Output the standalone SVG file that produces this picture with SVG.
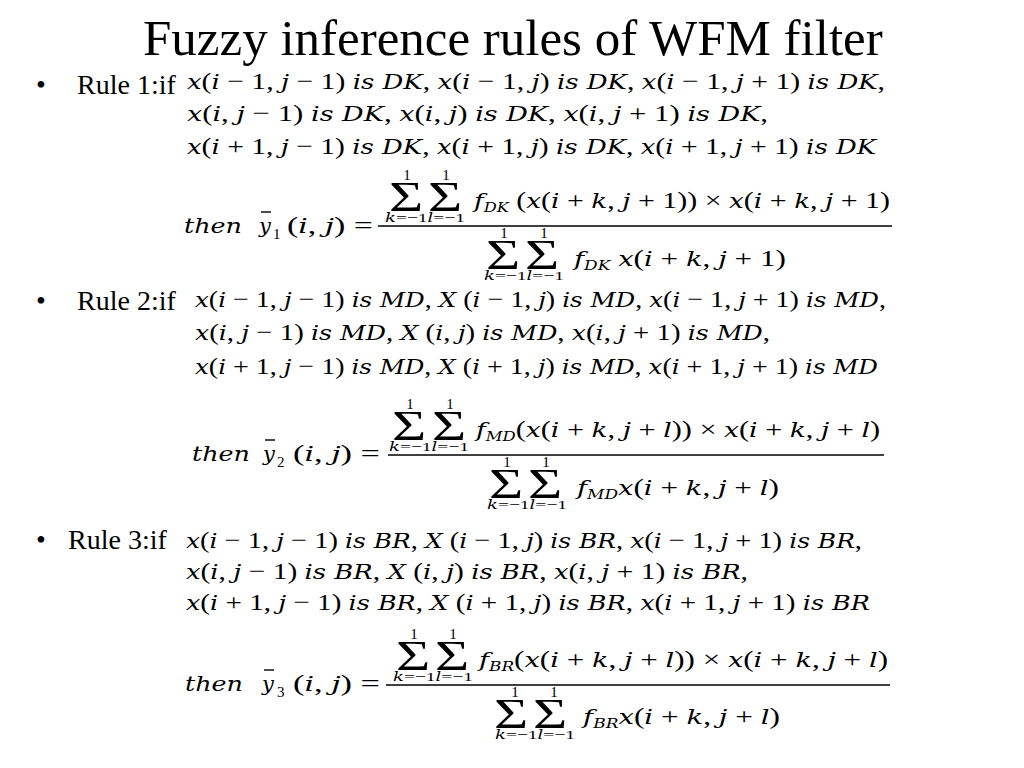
<svg xmlns="http://www.w3.org/2000/svg" width="1024" height="768" viewBox="0 0 1024 768">
<style>
text{font-family:"Liberation Serif","Times New Roman",serif;fill:#000}
.title{font-size:51px}
.lab{font-size:28px}
.m{font-size:24px}
.i{font-family:"DejaVu Serif",serif;font-style:italic;font-size:21px}
.sub{font-size:15px}
.i.sub{font-size:13px}
.lim{font-size:13px}
.lim .i{font-size:12px}
.sig{font-size:42px;text-anchor:middle}
.one{font-size:15px;text-anchor:middle}
.fr{stroke:#000;stroke-width:1.4;fill:none}
</style>
<rect width="1024" height="768" fill="#fff"/>
<text class="title" x="143" y="55">Fuzzy inference rules of WFM filter</text>

<g id="rule1">
<text class="lab" x="36" y="94">•</text>
<text class="lab" x="77" y="94">Rule 1:if</text>
<text class="m" x="187" y="89" textLength="698" lengthAdjust="spacingAndGlyphs"><tspan class="i">x</tspan>(<tspan class="i">i</tspan> − 1, <tspan class="i">j</tspan> − 1) <tspan class="i">is DK</tspan>, <tspan class="i">x</tspan>(<tspan class="i">i</tspan> − 1, <tspan class="i">j</tspan>) <tspan class="i">is DK</tspan>, <tspan class="i">x</tspan>(<tspan class="i">i</tspan> − 1, <tspan class="i">j</tspan> + 1) <tspan class="i">is DK</tspan>,</text>
<text class="m" x="187" y="121" textLength="581" lengthAdjust="spacingAndGlyphs"><tspan class="i">x</tspan>(<tspan class="i">i</tspan>, <tspan class="i">j</tspan> − 1) <tspan class="i">is DK</tspan>, <tspan class="i">x</tspan>(<tspan class="i">i</tspan>, <tspan class="i">j</tspan>) <tspan class="i">is DK</tspan>, <tspan class="i">x</tspan>(<tspan class="i">i</tspan>, <tspan class="i">j</tspan> + 1) <tspan class="i">is DK</tspan>,</text>
<text class="m" x="187" y="154" textLength="689" lengthAdjust="spacingAndGlyphs"><tspan class="i">x</tspan>(<tspan class="i">i</tspan> + 1, <tspan class="i">j</tspan> − 1) <tspan class="i">is DK</tspan>, <tspan class="i">x</tspan>(<tspan class="i">i</tspan> + 1, <tspan class="i">j</tspan>) <tspan class="i">is DK</tspan>, <tspan class="i">x</tspan>(<tspan class="i">i</tspan> + 1, <tspan class="i">j</tspan> + 1) <tspan class="i">is DK</tspan></text>
<text class="m" x="184" y="233" textLength="58" lengthAdjust="spacingAndGlyphs"><tspan class="i">then</tspan></text>
<text class="m" x="259" y="233"><tspan class="i">y</tspan></text>
<path class="fr" d="M261 212H271"/>
<text class="sub" x="273" y="239">1</text>
<text class="m" x="287" y="233" textLength="86" lengthAdjust="spacingAndGlyphs">(<tspan class="i">i</tspan>, <tspan class="i">j</tspan>) =</text>
<text class="one" x="407" y="180">1</text>
<text class="one" x="446" y="180">1</text>
<text class="sig" transform="translate(406,211) scale(1.4,1)">Σ</text>
<text class="sig" transform="translate(445,211) scale(1.4,1)">Σ</text>
<text class="lim" x="385" y="222" textLength="80" lengthAdjust="spacingAndGlyphs"><tspan class="i">k</tspan>=−1<tspan class="i">l</tspan>=−1</text>
<text class="m" x="474" y="208" textLength="416" lengthAdjust="spacingAndGlyphs"><tspan class="i">f</tspan><tspan class="i sub" dy="4">DK</tspan><tspan dy="-4"> (</tspan><tspan class="i">x</tspan>(<tspan class="i">i</tspan> + <tspan class="i">k</tspan>, <tspan class="i">j</tspan> + 1)) × <tspan class="i">x</tspan>(<tspan class="i">i</tspan> + <tspan class="i">k</tspan>, <tspan class="i">j</tspan> + 1)</text>
<path class="fr" d="M378 226H892"/>
<text class="one" x="504" y="238">1</text>
<text class="one" x="544" y="238">1</text>
<text class="sig" transform="translate(503,269) scale(1.4,1)">Σ</text>
<text class="sig" transform="translate(542,269) scale(1.4,1)">Σ</text>
<text class="lim" x="484" y="280" textLength="80" lengthAdjust="spacingAndGlyphs"><tspan class="i">k</tspan>=−1<tspan class="i">l</tspan>=−1</text>
<text class="m" x="574" y="266" textLength="212" lengthAdjust="spacingAndGlyphs"><tspan class="i">f</tspan><tspan class="i sub" dy="4">DK</tspan><tspan dy="-4"> </tspan><tspan class="i">x</tspan>(<tspan class="i">i</tspan> + <tspan class="i">k</tspan>, <tspan class="i">j</tspan> + 1)</text>
</g>

<g id="rule2">
<text class="lab" x="36" y="310">•</text>
<text class="lab" x="77" y="310">Rule 2:if</text>
<text class="m" x="195" y="307" textLength="691" lengthAdjust="spacingAndGlyphs"><tspan class="i">x</tspan>(<tspan class="i">i</tspan> − 1, <tspan class="i">j</tspan> − 1) <tspan class="i">is MD</tspan>, <tspan class="i">X</tspan> (<tspan class="i">i</tspan> − 1, <tspan class="i">j</tspan>) <tspan class="i">is MD</tspan>, <tspan class="i">x</tspan>(<tspan class="i">i</tspan> − 1, <tspan class="i">j</tspan> + 1) <tspan class="i">is MD</tspan>,</text>
<text class="m" x="195" y="340" textLength="575" lengthAdjust="spacingAndGlyphs"><tspan class="i">x</tspan>(<tspan class="i">i</tspan>, <tspan class="i">j</tspan> − 1) <tspan class="i">is MD</tspan>, <tspan class="i">X</tspan> (<tspan class="i">i</tspan>, <tspan class="i">j</tspan>) <tspan class="i">is MD</tspan>, <tspan class="i">x</tspan>(<tspan class="i">i</tspan>, <tspan class="i">j</tspan> + 1) <tspan class="i">is MD</tspan>,</text>
<text class="m" x="195" y="374" textLength="683" lengthAdjust="spacingAndGlyphs"><tspan class="i">x</tspan>(<tspan class="i">i</tspan> + 1, <tspan class="i">j</tspan> − 1) <tspan class="i">is MD</tspan>, <tspan class="i">X</tspan> (<tspan class="i">i</tspan> + 1, <tspan class="i">j</tspan>) <tspan class="i">is MD</tspan>, <tspan class="i">x</tspan>(<tspan class="i">i</tspan> + 1, <tspan class="i">j</tspan> + 1) <tspan class="i">is MD</tspan></text>
<text class="m" x="192" y="461" textLength="58" lengthAdjust="spacingAndGlyphs"><tspan class="i">then</tspan></text>
<text class="m" x="263" y="461"><tspan class="i">y</tspan></text>
<path class="fr" d="M265 440H275"/>
<text class="sub" x="277" y="467">2</text>
<text class="m" x="293" y="461" textLength="87" lengthAdjust="spacingAndGlyphs">(<tspan class="i">i</tspan>, <tspan class="i">j</tspan>) =</text>
<text class="one" x="410" y="409">1</text>
<text class="one" x="450" y="409">1</text>
<text class="sig" transform="translate(409,440) scale(1.4,1)">Σ</text>
<text class="sig" transform="translate(449,440) scale(1.4,1)">Σ</text>
<text class="lim" x="389" y="451" textLength="80" lengthAdjust="spacingAndGlyphs"><tspan class="i">k</tspan>=−1<tspan class="i">l</tspan>=−1</text>
<text class="m" x="476" y="437" textLength="404" lengthAdjust="spacingAndGlyphs"><tspan class="i">f</tspan><tspan class="i sub" dy="4">MD</tspan><tspan dy="-4">(</tspan><tspan class="i">x</tspan>(<tspan class="i">i</tspan> + <tspan class="i">k</tspan>, <tspan class="i">j</tspan> + <tspan class="i">l</tspan>)) × <tspan class="i">x</tspan>(<tspan class="i">i</tspan> + <tspan class="i">k</tspan>, <tspan class="i">j</tspan> + <tspan class="i">l</tspan>)</text>
<path class="fr" d="M388 455H884"/>
<text class="one" x="507" y="467">1</text>
<text class="one" x="546" y="467">1</text>
<text class="sig" transform="translate(506,498) scale(1.4,1)">Σ</text>
<text class="sig" transform="translate(545,498) scale(1.4,1)">Σ</text>
<text class="lim" x="487" y="509" textLength="80" lengthAdjust="spacingAndGlyphs"><tspan class="i">k</tspan>=−1<tspan class="i">l</tspan>=−1</text>
<text class="m" x="577" y="495" textLength="202" lengthAdjust="spacingAndGlyphs"><tspan class="i">f</tspan><tspan class="i sub" dy="4">MD</tspan><tspan class="i" dy="-4">x</tspan>(<tspan class="i">i</tspan> + <tspan class="i">k</tspan>, <tspan class="i">j</tspan> + <tspan class="i">l</tspan>)</text>
</g>

<g id="rule3">
<text class="lab" x="36" y="549">•</text>
<text class="lab" x="68" y="549">Rule 3:if</text>
<text class="m" x="186" y="548" textLength="676" lengthAdjust="spacingAndGlyphs"><tspan class="i">x</tspan>(<tspan class="i">i</tspan> − 1, <tspan class="i">j</tspan> − 1) <tspan class="i">is BR</tspan>, <tspan class="i">X</tspan> (<tspan class="i">i</tspan> − 1, <tspan class="i">j</tspan>) <tspan class="i">is BR</tspan>, <tspan class="i">x</tspan>(<tspan class="i">i</tspan> − 1, <tspan class="i">j</tspan> + 1) <tspan class="i">is BR</tspan>,</text>
<text class="m" x="186" y="579" textLength="562" lengthAdjust="spacingAndGlyphs"><tspan class="i">x</tspan>(<tspan class="i">i</tspan>, <tspan class="i">j</tspan> − 1) <tspan class="i">is BR</tspan>, <tspan class="i">X</tspan> (<tspan class="i">i</tspan>, <tspan class="i">j</tspan>) <tspan class="i">is BR</tspan>, <tspan class="i">x</tspan>(<tspan class="i">i</tspan>, <tspan class="i">j</tspan> + 1) <tspan class="i">is BR</tspan>,</text>
<text class="m" x="186" y="610" textLength="684" lengthAdjust="spacingAndGlyphs"><tspan class="i">x</tspan>(<tspan class="i">i</tspan> + 1, <tspan class="i">j</tspan> − 1) <tspan class="i">is BR</tspan>, <tspan class="i">X</tspan> (<tspan class="i">i</tspan> + 1, <tspan class="i">j</tspan>) <tspan class="i">is BR</tspan>, <tspan class="i">x</tspan>(<tspan class="i">i</tspan> + 1, <tspan class="i">j</tspan> + 1) <tspan class="i">is BR</tspan></text>
<text class="m" x="185" y="691" textLength="58" lengthAdjust="spacingAndGlyphs"><tspan class="i">then</tspan></text>
<text class="m" x="262" y="691"><tspan class="i">y</tspan></text>
<path class="fr" d="M264 670H274"/>
<text class="sub" x="277" y="697">3</text>
<text class="m" x="293" y="691" textLength="87" lengthAdjust="spacingAndGlyphs">(<tspan class="i">i</tspan>, <tspan class="i">j</tspan>) =</text>
<text class="one" x="414" y="639">1</text>
<text class="one" x="453" y="639">1</text>
<text class="sig" transform="translate(413,670) scale(1.4,1)">Σ</text>
<text class="sig" transform="translate(452,670) scale(1.4,1)">Σ</text>
<text class="lim" x="393" y="681" textLength="80" lengthAdjust="spacingAndGlyphs"><tspan class="i">k</tspan>=−1<tspan class="i">l</tspan>=−1</text>
<text class="m" x="479" y="667" textLength="409" lengthAdjust="spacingAndGlyphs"><tspan class="i">f</tspan><tspan class="i sub" dy="4">BR</tspan><tspan dy="-4">(</tspan><tspan class="i">x</tspan>(<tspan class="i">i</tspan> + <tspan class="i">k</tspan>, <tspan class="i">j</tspan> + <tspan class="i">l</tspan>)) × <tspan class="i">x</tspan>(<tspan class="i">i</tspan> + <tspan class="i">k</tspan>, <tspan class="i">j</tspan> + <tspan class="i">l</tspan>)</text>
<path class="fr" d="M386 685H890"/>
<text class="one" x="515" y="697">1</text>
<text class="one" x="554" y="697">1</text>
<text class="sig" transform="translate(511,728) scale(1.4,1)">Σ</text>
<text class="sig" transform="translate(550,728) scale(1.4,1)">Σ</text>
<text class="lim" x="495" y="739" textLength="80" lengthAdjust="spacingAndGlyphs"><tspan class="i">k</tspan>=−1<tspan class="i">l</tspan>=−1</text>
<text class="m" x="583" y="724" textLength="197" lengthAdjust="spacingAndGlyphs"><tspan class="i">f</tspan><tspan class="i sub" dy="4">BR</tspan><tspan class="i" dy="-4">x</tspan>(<tspan class="i">i</tspan> + <tspan class="i">k</tspan>, <tspan class="i">j</tspan> + <tspan class="i">l</tspan>)</text>
</g>
</svg>
